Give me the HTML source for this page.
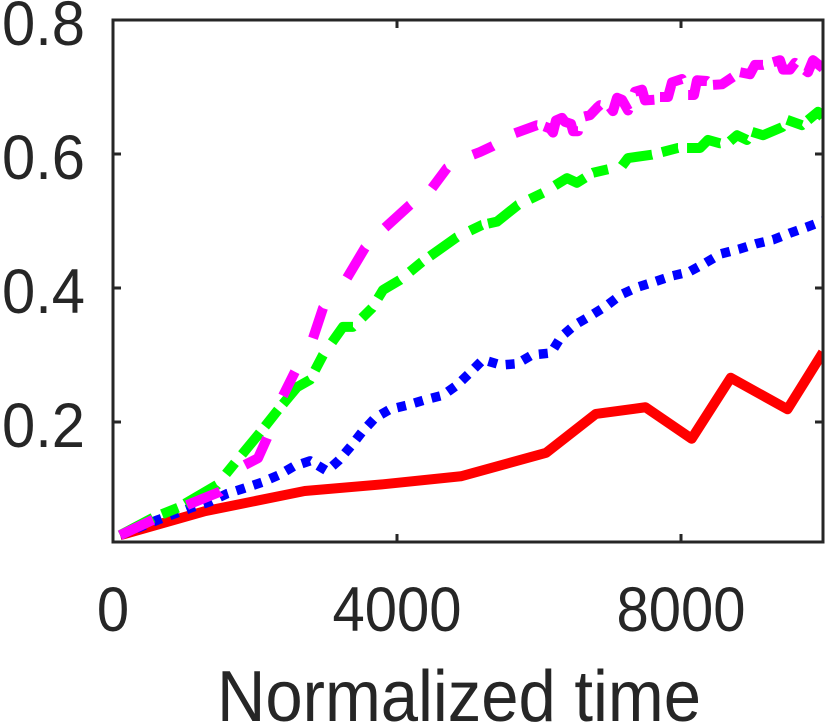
<!DOCTYPE html>
<html>
<head>
<meta charset="utf-8">
<title>Normalized time chart</title>
<style>
  html, body { margin: 0; padding: 0; background: #fff; }
  svg { display: block; }
  text { font-family: "Liberation Sans", sans-serif; fill: #262626; }
</style>
</head>
<body>
<svg id="chart" width="830" height="727" viewBox="0 0 830 727" xmlns="http://www.w3.org/2000/svg">
  <defs>
    <clipPath id="plot-clip"><rect x="113" y="20" width="710" height="522"></rect></clipPath>
  </defs>
  <g id="series" clip-path="url(#plot-clip)"></g>
  <g id="axes"></g>
  <text transform="translate(459 721) scale(1 1.08)" font-size="67" text-anchor="middle">Normalized time</text>
</svg>
<script>
const xTicks = [0, 4000, 8000];
const xTickLabels = ["0", "4000", "8000"];
const yTicks = [0.2, 0.4, 0.6, 0.8];
const yTickLabels = ["0.2", "0.4", "0.6", "0.8"];

const redX = [100, 1300, 2700, 3800, 4900, 6100, 6800, 7500, 8150, 8700, 9500, 10000];
const redY = [0.031, 0.067, 0.097, 0.107, 0.119, 0.154, 0.212, 0.222, 0.175, 0.266, 0.219, 0.304];

const blueX = [100, 634, 1127, 1366, 1606, 1845, 2099, 2338, 2549, 2775, 3014, 3183, 3352, 3507, 3690, 3901, 4141, 4394, 4648, 4845, 5042, 5211, 5465, 5690, 5901, 6169, 6310, 6507, 6718, 6944, 7155, 7380, 7620, 7873, 8113, 8338, 8563, 8817, 9056, 9296, 9535, 9775, 10000];
const blueY = [0.031, 0.054, 0.073, 0.081, 0.093, 0.101, 0.110, 0.121, 0.134, 0.142, 0.127, 0.143, 0.164, 0.185, 0.206, 0.219, 0.225, 0.233, 0.240, 0.255, 0.275, 0.293, 0.285, 0.287, 0.300, 0.303, 0.327, 0.345, 0.358, 0.373, 0.390, 0.401, 0.409, 0.418, 0.424, 0.437, 0.451, 0.458, 0.466, 0.472, 0.482, 0.491, 0.500];

const greenX = [100, 563, 915, 1465, 1718, 2070, 2324, 2592, 2775, 2958, 3239, 3380, 3648, 3803, 4042, 4352, 4845, 5197, 5408, 5704, 6056, 6394, 6535, 6761, 7169, 7254, 7592, 7958, 8268, 8380, 8549, 8690, 8789, 8930, 9000, 9155, 9423, 9493, 9704, 9930, 10000];
const greenY = [0.031, 0.057, 0.072, 0.106, 0.139, 0.184, 0.218, 0.252, 0.263, 0.300, 0.342, 0.342, 0.370, 0.397, 0.412, 0.439, 0.476, 0.494, 0.499, 0.524, 0.542, 0.564, 0.557, 0.572, 0.582, 0.594, 0.599, 0.609, 0.609, 0.621, 0.616, 0.619, 0.628, 0.621, 0.633, 0.628, 0.640, 0.651, 0.643, 0.663, 0.655];

const magentaX = [100, 563, 1042, 1507, 1859, 2042, 2169, 2352, 2563, 2817, 2958, 3296, 3549, 3831, 4183, 4493, 4704, 5070, 5169, 5352, 5662, 5972, 6056, 6155, 6197, 6239, 6324, 6366, 6451, 6479, 6549, 6577, 6606, 6718, 6817, 6859, 7000, 7042, 7099, 7169, 7254, 7352, 7451, 7493, 7634, 7704, 7817, 7873, 8014, 8099, 8183, 8225, 8366, 8437, 8577, 8732, 8831, 8972, 9042, 9155, 9296, 9394, 9437, 9535, 9606, 9789, 9859, 10000];
const magentaY = [0.031, 0.054, 0.076, 0.096, 0.136, 0.146, 0.176, 0.230, 0.275, 0.325, 0.370, 0.415, 0.460, 0.490, 0.524, 0.549, 0.579, 0.599, 0.603, 0.612, 0.631, 0.643, 0.642, 0.638, 0.632, 0.650, 0.654, 0.648, 0.645, 0.634, 0.634, 0.651, 0.655, 0.658, 0.669, 0.673, 0.670, 0.664, 0.684, 0.681, 0.665, 0.693, 0.696, 0.680, 0.681, 0.685, 0.685, 0.707, 0.712, 0.688, 0.688, 0.710, 0.709, 0.703, 0.704, 0.715, 0.722, 0.719, 0.733, 0.733, 0.737, 0.740, 0.726, 0.726, 0.736, 0.722, 0.740, 0.728];

/* Line-style breaks: where each dash ends and the next begins, along the time axis. */
const greenGapStarts = [563, 915, 1465, 1718, 2070, 2324, 2775, 2958, 3380, 3648, 4042, 4352, 4845, 5197, 5704, 6056, 6648, 6972, 7592, 7958, 8549, 8930, 9423, 9704];
const greenGapEnds = [690, 1014, 1592, 1817, 2141, 2394, 2845, 3085, 3507, 3732, 4183, 4465, 5028, 5282, 5873, 6225, 6761, 7169, 7732, 8085, 8690, 9000, 9493, 9789];
const magentaGapStarts = [563, 1507, 2169, 2563, 2958, 3549, 4183, 4704, 5352, 5972, 6550, 6859, 7260, 7625, 8014, 8366, 8732, 9155, 9606];
const magentaGapEnds = [1042, 1859, 2394, 2817, 3296, 3831, 4493, 5070, 5662, 6075, 6640, 7000, 7345, 7704, 8100, 8450, 8831, 9296, 9746];

const xMin = 0, xMax = 10000, yMin = 0.0209, yMax = 0.8;
const plotLeft = 113, plotRight = 823, plotTop = 20, plotBottom = 542;
const NS = "http://www.w3.org/2000/svg";
const axisColor = "#262626";

function xScale(v) { return plotLeft + (v - xMin) / (xMax - xMin) * (plotRight - plotLeft); }
function yScale(v) { return plotBottom - (v - yMin) / (yMax - yMin) * (plotBottom - plotTop); }

function dashFromGaps(xs, ys, starts, ends) {
  const cum = [0];
  for (let i = 1; i < xs.length; i++) {
    const dx = xScale(xs[i]) - xScale(xs[i - 1]);
    const dy = yScale(ys[i]) - yScale(ys[i - 1]);
    cum.push(cum[i - 1] + Math.sqrt(dx * dx + dy * dy));
  }
  function lengthAt(x) {
    for (let i = 1; i < xs.length; i++) {
      if (x <= xs[i]) {
        const t = (x - xs[i - 1]) / (xs[i] - xs[i - 1]);
        return cum[i - 1] + t * (cum[i] - cum[i - 1]);
      }
    }
    return cum[cum.length - 1];
  }
  const parts = [];
  let pos = 0;
  starts.forEach(function (s, i) {
    const a = lengthAt(s), b = lengthAt(ends[i]);
    parts.push((a - pos).toFixed(2), (b - a).toFixed(2));
    pos = b;
  });
  parts.push("4000", "0");
  return parts.join(" ");
}

function drawSeries(xs, ys, color, width, dash, cap) {
  const path = document.createElementNS(NS, "path");
  let d = "";
  xs.forEach(function (x, i) {
    d += (i ? "L" : "M") + xScale(x).toFixed(2) + " " + yScale(ys[i]).toFixed(2);
  });
  path.setAttribute("d", d);
  path.setAttribute("fill", "none");
  path.setAttribute("stroke", color);
  path.setAttribute("stroke-width", width);
  path.setAttribute("stroke-linejoin", "round");
  path.setAttribute("stroke-linecap", cap);
  if (dash) path.setAttribute("stroke-dasharray", dash);
  document.getElementById("series").appendChild(path);
  return path;
}

const redLine = drawSeries(redX, redY, "#ff0000", 10, "", "butt");


const blueLine = drawSeries(blueX, blueY, "#0000ff", 9.5, "9 8.8", "butt");


const greenLine = drawSeries(greenX, greenY, "#00ff00", 10, dashFromGaps(greenX, greenY, greenGapStarts, greenGapEnds), "butt");


const magentaLine = drawSeries(magentaX, magentaY, "#ff00ff", 10, dashFromGaps(magentaX, magentaY, magentaGapStarts, magentaGapEnds), "butt");



const axes = document.getElementById("axes");

function drawLine(x1, y1, x2, y2, width) {
  const l = document.createElementNS(NS, "line");
  l.setAttribute("x1", x1);
  l.setAttribute("y1", y1);
  l.setAttribute("x2", x2);
  l.setAttribute("y2", y2);
  l.setAttribute("stroke", axisColor);
  l.setAttribute("stroke-width", width);
  axes.appendChild(l);
  return l;
}

const frame = document.createElementNS(NS, "rect");
frame.setAttribute("x", plotLeft);
frame.setAttribute("y", plotTop);
frame.setAttribute("width", plotRight - plotLeft);
frame.setAttribute("height", plotBottom - plotTop);
frame.setAttribute("fill", "none");
frame.setAttribute("stroke", axisColor);
frame.setAttribute("stroke-width", 3);


axes.appendChild(frame);

xTicks.forEach(function (t, i) {
  const px = xScale(t);
  const tb = drawLine(px, plotBottom, px, plotBottom - 8, 3);
  
  
  const tt = drawLine(px, plotTop, px, plotTop + 8, 3);
  
  
  const label = document.createElementNS(NS, "text");
  label.setAttribute("transform", "translate(" + px + " 631) scale(1 1.08)");
  label.setAttribute("font-size", 58);
  label.setAttribute("text-anchor", "middle");
  label.textContent = xTickLabels[i];
  
  
  axes.appendChild(label);
});

yTicks.forEach(function (t, i) {
  const py = yScale(t);
  const tl = drawLine(plotLeft, py, plotLeft + 8, py, 3);
  
  
  const tr = drawLine(plotRight, py, plotRight - 8, py, 3);
  
  
  const label = document.createElementNS(NS, "text");
  label.setAttribute("transform", "translate(85 " + (py + 25) + ") scale(1.03 1.08)");
  label.setAttribute("font-size", 58);
  label.setAttribute("text-anchor", "end");
  label.textContent = yTickLabels[i];
  
  
  axes.appendChild(label);
});
</script>
</body>
</html>
